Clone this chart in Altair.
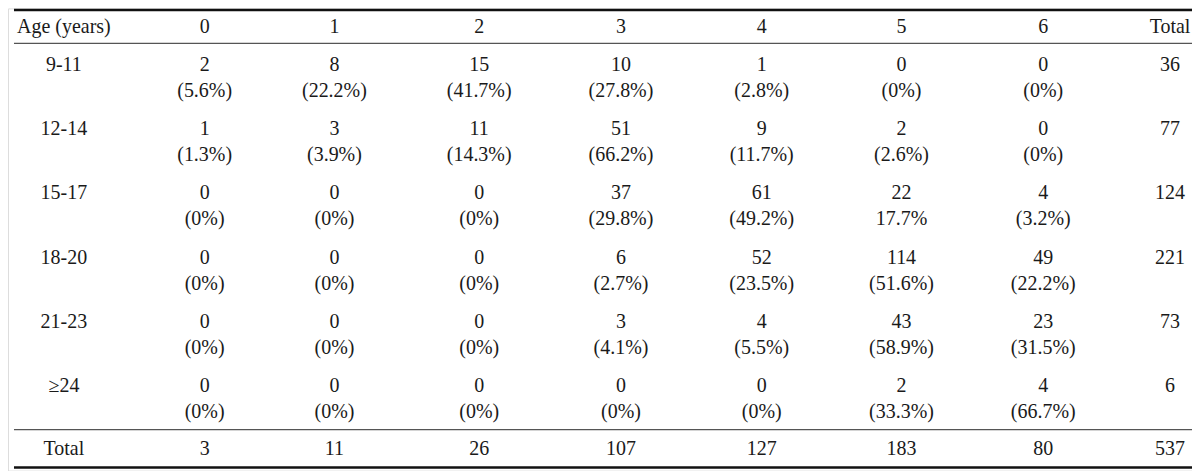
import altair as alt
import pandas as pd

# ---- table content ----
first_col_header = "Age (years)"
col_labels = ["0", "1", "2", "3", "4", "5", "6"]
total_label = "Total"
age_groups = ["9-11", "12-14", "15-17", "18-20", "21-23", "≥24"]
counts = [
    [2, 8, 15, 10, 1, 0, 0],
    [1, 3, 11, 51, 9, 2, 0],
    [0, 0, 0, 37, 61, 22, 4],
    [0, 0, 0, 6, 52, 114, 49],
    [0, 0, 0, 3, 4, 43, 23],
    [0, 0, 0, 0, 0, 2, 4],
]
percents = [
    ["(5.6%)", "(22.2%)", "(41.7%)", "(27.8%)", "(2.8%)", "(0%)", "(0%)"],
    ["(1.3%)", "(3.9%)", "(14.3%)", "(66.2%)", "(11.7%)", "(2.6%)", "(0%)"],
    ["(0%)", "(0%)", "(0%)", "(29.8%)", "(49.2%)", "17.7%", "(3.2%)"],
    ["(0%)", "(0%)", "(0%)", "(2.7%)", "(23.5%)", "(51.6%)", "(22.2%)"],
    ["(0%)", "(0%)", "(0%)", "(4.1%)", "(5.5%)", "(58.9%)", "(31.5%)"],
    ["(0%)", "(0%)", "(0%)", "(0%)", "(0%)", "(33.3%)", "(66.7%)"],
]
row_totals = [36, 77, 124, 221, 73, 6]
col_totals = [3, 11, 26, 107, 127, 183, 80]
grand_total = 537

# ---- build long table (column index / line index) ----
n_cols = len(col_labels) + 2
n_rows = len(age_groups)
recs = []
recs.append({"ci": 0, "li": 0, "text": first_col_header})
for j, c in enumerate(col_labels):
    recs.append({"ci": j + 1, "li": 0, "text": c})
recs.append({"ci": n_cols - 1, "li": 0, "text": total_label})
for i, age in enumerate(age_groups):
    la, lb = 1 + 2 * i, 2 + 2 * i
    recs.append({"ci": 0, "li": la, "text": age})
    for j in range(len(col_labels)):
        recs.append({"ci": j + 1, "li": la, "text": str(counts[i][j])})
        recs.append({"ci": j + 1, "li": lb, "text": percents[i][j]})
    recs.append({"ci": n_cols - 1, "li": la, "text": str(row_totals[i])})
lt = 1 + 2 * n_rows
recs.append({"ci": 0, "li": lt, "text": total_label})
for j in range(len(col_labels)):
    recs.append({"ci": j + 1, "li": lt, "text": str(col_totals[j])})
recs.append({"ci": n_cols - 1, "li": lt, "text": str(grand_total)})
df = pd.DataFrame(recs)

# layout: piecewise scale ranges
x_range = [56, 197, 327, 472, 614, 755, 895, 1037, 1164]
y_range = [19]
for i in range(n_rows):
    ya = 57 + round(64.2 * i)
    y_range += [ya, ya + 26]
y_range += [441]

W, H = 1186, 463
FONT = "Liberation Serif"

text = alt.Chart(df).mark_text(
    font=FONT, fontSize=20, color="#1a1a1a", baseline="middle", align="center"
).encode(
    x=alt.X("ci:Q", scale=alt.Scale(domain=list(range(n_cols)), range=x_range, zero=False, nice=False), axis=None),
    y=alt.Y("li:Q", scale=alt.Scale(domain=list(range(lt + 1)), range=y_range, zero=False, nice=False), axis=None),
    text="text:N",
)

rule_df = pd.DataFrame({"k": [0]})

def rule(y, w, color):
    return alt.Chart(rule_df).mark_rule(color=color, strokeWidth=w).encode(
        x=alt.value(6), x2=alt.value(1187), y=alt.value(y)
    )

chart = alt.layer(
    rule(1.5, 2.5, "#111111"),
    rule(35, 1.2, "#555555"),
    rule(422, 1.2, "#555555"),
    rule(460, 2.5, "#111111"),
    text,
).properties(
    width=W, height=H, padding=0, autosize=alt.AutoSizeParams(type="none")
).configure_view(stroke=None).configure(background="white")

chart.save("out.html", embed_options={"renderer": "svg", "actions": False})
